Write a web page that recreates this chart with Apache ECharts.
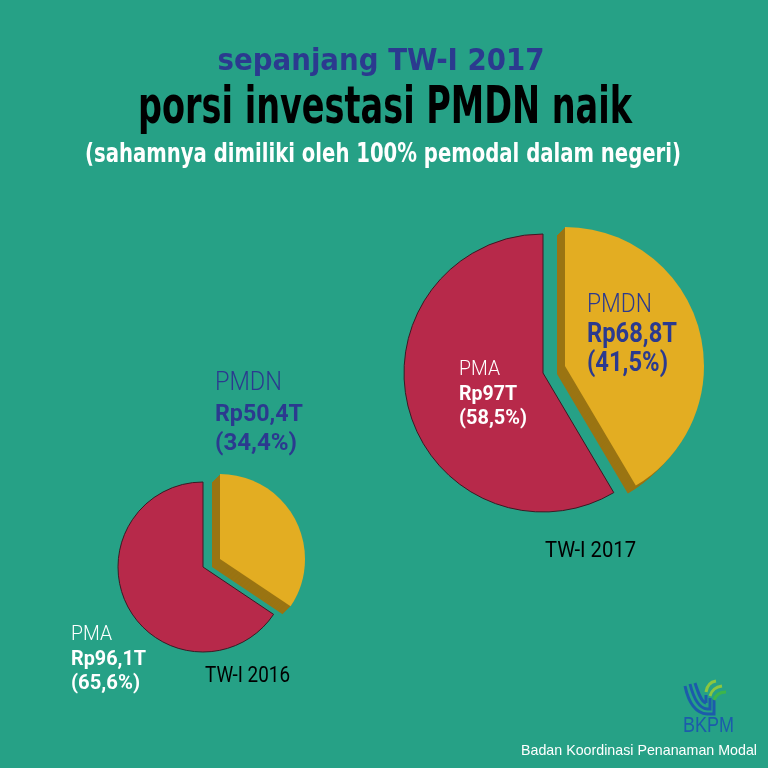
<!DOCTYPE html>
<html>
<head>
<meta charset="utf-8">
<script src="https://cdn.jsdelivr.net/npm/echarts@6/dist/echarts.min.js"></script>
<style>
html,body{margin:0;padding:0;background:#26a186;}
#chart{width:768px;height:768px;}
</style>
</head>
<body>
<div id="chart"></div>
<script>
// ---- data ----
const periods = ['TW-I 2016', 'TW-I 2017'];
const categories = ['PMDN', 'PMA'];
const pmdnValues = [50.4, 68.8];   // Rp triliun
const pmaValues = [96.1, 97];      // Rp triliun
const pmdnShares = [34.4, 41.5];   // %
const pmaShares = [65.6, 58.5];    // %
const titleTop = 'sepanjang TW-I 2017';
const titleMain = 'porsi investasi PMDN naik';
const titleSub = '(sahamnya dimiliki oleh 100% pemodal dalam negeri)';
const sourceOrg = 'Badan Koordinasi Penanaman Modal';
const sourceAbbr = 'BKPM';

// ---- style ----
const BG = '#26a186';
const RED = '#b7294a';
const YELLOW = '#e3ad22';
const SHADOW = '#9a7412';
const BLUE = '#2b3a8f';
const COND = "'Liberation Sans Narrow','DejaVu Sans Condensed',sans-serif";
const LBL = "Roboto,'Noto Sans',sans-serif";

// pie layout
const pieLayout = [
  {c: [203, 567], f: [220, 559], r: 85},
  {c: [543, 373], f: [565, 366], r: 139}
];
const DEPTH = 8;

const mctx = document.createElement('canvas').getContext('2d');
function measure(t, size, weight, family) {
  mctx.font = weight + ' ' + size + 'px ' + family;
  return mctx.measureText(t).width;
}
function txt(t, x, y, size, weight, color, family, align, width) {
  const sx = width ? width / measure(t, size, weight, family) : 1;
  return {
    type: 'text', x: x, y: y, scaleX: sx, silent: true, z: 100,
    style: {
      text: t, x: 0, y: 0, fill: color,
      fontSize: size, fontWeight: weight, fontFamily: family,
      align: align, verticalAlign: 'middle',
      textAlign: align, textVerticalAlign: 'middle'
    }
  };
}
const fmt = v => String(v).replace('.', ',');

const series = [];
const base = {
  type: 'pie', startAngle: 90, clockwise: true, silent: true,
  label: {show: false}, labelLine: {show: false},
  emphasis: {disabled: true}, animation: false, avoidLabelOverlap: false
};
const none = {color: 'rgba(0,0,0,0)', borderWidth: 0};
periods.forEach((p, i) => {
  const L = pieLayout[i];
  series.push(Object.assign({}, base, {
    name: p + ' PMA', center: L.c, radius: L.r, z: 2,
    data: [
      {name: categories[0], value: pmdnValues[i], itemStyle: none},
      {name: categories[1], value: pmaValues[i], itemStyle: {color: RED, borderColor: '#3b1a24', borderWidth: 1}}
    ]
  }));
  for (let k = DEPTH; k >= 1; k--) {
    series.push(Object.assign({}, base, {
      name: p + ' shadow' + k, center: [L.f[0] - k, L.f[1] + k], radius: L.r, z: 3,
      data: [
        {name: categories[0], value: pmdnValues[i], itemStyle: {color: SHADOW, borderWidth: 0}},
        {name: categories[1], value: pmaValues[i], itemStyle: none}
      ]
    }));
  }
  series.push(Object.assign({}, base, {
    name: p + ' PMDN', center: L.f, radius: L.r, z: 4,
    data: [
      {name: categories[0], value: pmdnValues[i], itemStyle: {color: YELLOW, borderWidth: 0}},
      {name: categories[1], value: pmaValues[i], itemStyle: none}
    ]
  }));
});

function curve(x1, y1, c1x, c1y, c2x, c2y, x2, y2, color) {
  return {type: 'bezierCurve', silent: true, z: 100,
    shape: {x1: x1, y1: y1, cpx1: c1x, cpy1: c1y, cpx2: c2x, cpy2: c2y, x2: x2, y2: y2},
    style: {fill: 'none', stroke: color, lineWidth: 3}};
}
function pline(points, color) {
  return {type: 'polyline', silent: true, z: 100, shape: {points: points},
    style: {fill: 'none', stroke: color, lineWidth: 3}};
}

const graphics = [
  txt(titleTop, 381, 62, 30, 'bold', BLUE, COND, 'center', 327),
  txt(titleMain, 385, 109, 52, 'bold', '#000', COND, 'center', 494),
  txt(titleSub, 383, 155, 27, 'bold', '#fff', COND, 'center', 596),

  // 2017 labels
  txt(categories[1], 459, 370, 21, 300, '#fff', LBL, 'left', 41),
  txt('Rp' + fmt(pmaValues[1]) + 'T', 459, 395, 21, 'bold', '#fff', LBL, 'left', 58),
  txt('(' + fmt(pmaShares[1]) + '%)', 459, 419, 21, 'bold', '#fff', LBL, 'left', 68),
  txt(categories[0], 587, 306, 25, 300, BLUE, LBL, 'left', 65),
  txt('Rp' + fmt(pmdnValues[1]) + 'T', 587, 335, 28, 'bold', BLUE, LBL, 'left', 90),
  txt('(' + fmt(pmdnShares[1]) + '%)', 587, 364, 28, 'bold', BLUE, LBL, 'left', 81),
  txt(periods[1], 545, 551, 22, 'normal', '#000', LBL, 'left', 91),

  // 2016 labels
  txt(categories[0], 215, 384, 25, 300, BLUE, LBL, 'left', 67),
  txt('Rp' + fmt(pmdnValues[0]) + 'T', 215, 415, 24, 'bold', BLUE, LBL, 'left', 88),
  txt('(' + fmt(pmdnShares[0]) + '%)', 215, 444, 24, 'bold', BLUE, LBL, 'left', 82),
  txt(categories[1], 71, 635, 20, 300, '#fff', LBL, 'left', 41),
  txt('Rp' + fmt(pmaValues[0]) + 'T', 71, 660, 21, 'bold', '#fff', LBL, 'left', 75),
  txt('(' + fmt(pmaShares[0]) + '%)', 71, 684, 21, 'bold', '#fff', LBL, 'left', 69),
  txt(periods[0], 205, 676, 22, 'normal', '#000', LBL, 'left', 85),

  // source
  txt(sourceAbbr, 683, 726, 22, 'normal', '#1c5bab', "'Liberation Sans',Arial,sans-serif", 'left', 51),
  txt(sourceOrg, 521, 751, 15, 'normal', '#fff', "'Liberation Sans',Arial,sans-serif", 'left', 236),

  // logo
  curve(685, 686, 688, 700, 694, 713, 707, 714, '#1c5bab'),
  pline([[707, 714], [714, 714], [714, 699]], '#1c5bab'),
  curve(690, 684, 693, 696, 698, 708, 707, 709, '#1c5bab'),
  pline([[707, 709], [710, 709], [710, 698]], '#1c5bab'),
  curve(695, 683, 698, 692, 701, 702, 706, 703, '#1c5bab'),
  pline([[706, 703], [706, 695]], '#1c5bab'),
  curve(714, 700, 716, 694, 720, 692, 726, 692, '#3db54a'),
  curve(710, 696, 712, 689, 716, 687, 722, 686, '#8cc63f'),
  curve(706, 692, 707, 685, 710, 682, 716, 681, '#8cc63f')
];

const chart = echarts.init(document.getElementById('chart'), null, {renderer: 'canvas'});
chart.setOption({
  backgroundColor: BG,
  animation: false,
  series: series,
  graphic: {elements: graphics}
});
</script>
</body>
</html>
